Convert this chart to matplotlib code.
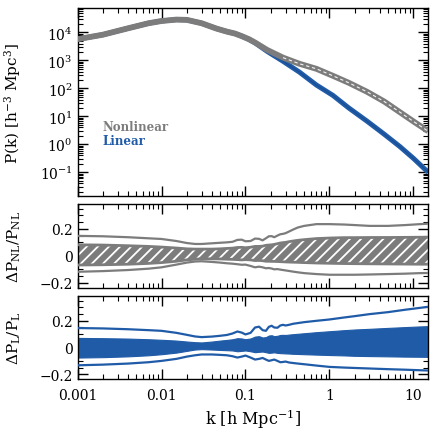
import numpy as np
import matplotlib
matplotlib.use("Agg")
import matplotlib.pyplot as plt
from matplotlib.ticker import FixedLocator, FixedFormatter, MultipleLocator, LogLocator, NullFormatter

plt.rcParams['font.family'] = ['DejaVu Serif']
plt.rcParams['mathtext.fontset'] = 'dejavuserif'
plt.rcParams['hatch.linewidth'] = 1.3
plt.rcParams['hatch.color'] = 'white'

# ---------------- data ----------------
k_pk = [0.001, 0.002, 0.004, 0.007, 0.01, 0.015, 0.02, 0.03, 0.045, 0.06, 0.075,
        0.09, 0.11, 0.13, 0.18, 0.28, 0.44, 0.7, 1.1, 1.7, 2.8, 4.5, 6.9, 10.0, 15.0]
logP_nl = [3.76, 3.92, 4.15, 4.33, 4.41, 4.46, 4.45, 4.33, 4.14, 4.03, 3.96,
           3.87, 3.76, 3.64, 3.38, 3.10, 2.88, 2.70, 2.45, 2.20, 1.88, 1.53, 1.15, 0.82, 0.47]
logP_lin = [3.76, 3.92, 4.15, 4.33, 4.41, 4.46, 4.45, 4.33, 4.14, 4.03, 3.96,
            3.87, 3.75, 3.63, 3.33, 2.97, 2.58, 2.12, 1.75, 1.30, 0.83, 0.36, -0.08, -0.50, -1.00]
k_dash_min = 0.2   # white dashes of the nonlinear band are visible from here on

k_r = [0.001, 0.002, 0.004, 0.007, 0.01, 0.015, 0.02, 0.025, 0.03, 0.04, 0.05, 0.06,
       0.07, 0.08, 0.09, 0.1, 0.115, 0.13, 0.145, 0.16, 0.175, 0.19, 0.205, 0.22,
       0.24, 0.26, 0.28, 0.3, 0.33, 0.37, 0.42, 0.5, 0.7, 1.0, 1.5, 2.0, 3.0, 5.0,
       8.0, 12.0, 15.0]

# Nonlinear fractional error
nl_out_hi = [0.148, 0.145, 0.138, 0.130, 0.125, 0.110, 0.095, 0.088, 0.088, 0.093, 0.097, 0.100,
             0.104, 0.118, 0.120, 0.108, 0.110, 0.128, 0.126, 0.115, 0.130, 0.145, 0.146, 0.138,
             0.150, 0.160, 0.163, 0.168, 0.180, 0.195, 0.210, 0.222, 0.235, 0.235, 0.232, 0.228,
             0.222, 0.222, 0.228, 0.235, 0.238]
nl_out_lo = [-0.118, -0.113, -0.105, -0.095, -0.085, -0.065, -0.050, -0.042, -0.040, -0.045, -0.050, -0.055,
             -0.058, -0.062, -0.066, -0.065, -0.075, -0.085, -0.080, -0.085, -0.092, -0.090, -0.094, -0.100,
             -0.098, -0.102, -0.105, -0.108, -0.112, -0.117, -0.122, -0.128, -0.135, -0.140, -0.140, -0.140,
             -0.138, -0.135, -0.132, -0.128, -0.127]
nl_band_hi = [0.082, 0.080, 0.075, 0.070, 0.065, 0.058, 0.052, 0.050, 0.050, 0.050, 0.052, 0.055,
              0.057, 0.062, 0.063, 0.060, 0.064, 0.070, 0.070, 0.072, 0.078, 0.080, 0.082, 0.085,
              0.090, 0.095, 0.098, 0.100, 0.105, 0.110, 0.115, 0.120, 0.128, 0.132, 0.135, 0.135,
              0.136, 0.136, 0.137, 0.138, 0.138]
nl_band_lo = [-0.068, -0.066, -0.062, -0.056, -0.050, -0.040, -0.030, -0.025, -0.022, -0.022, -0.023, -0.025,
              -0.026, -0.028, -0.030, -0.028, -0.030, -0.035, -0.034, -0.036, -0.040, -0.040, -0.041, -0.041,
              -0.042, -0.043, -0.044, -0.045, -0.046, -0.047, -0.048, -0.050, -0.053, -0.055, -0.057, -0.058,
              -0.059, -0.060, -0.061, -0.062, -0.062]

# Linear fractional error
l_out_hi = [0.146, 0.143, 0.137, 0.130, 0.125, 0.110, 0.095, 0.083, 0.078, 0.082, 0.088, 0.094,
            0.105, 0.120, 0.112, 0.098, 0.110, 0.150, 0.156, 0.130, 0.125, 0.155, 0.163, 0.150,
            0.148, 0.165, 0.170, 0.165, 0.170, 0.178, 0.183, 0.190, 0.200, 0.210, 0.225, 0.235,
            0.250, 0.265, 0.283, 0.297, 0.305]
l_out_lo = [-0.133, -0.128, -0.120, -0.110, -0.100, -0.085, -0.068, -0.058, -0.052, -0.052, -0.055, -0.058,
            -0.065, -0.075, -0.068, -0.060, -0.075, -0.090, -0.085, -0.078, -0.090, -0.100, -0.095, -0.090,
            -0.100, -0.110, -0.108, -0.105, -0.112, -0.116, -0.120, -0.125, -0.135, -0.145, -0.150, -0.153,
            -0.157, -0.162, -0.166, -0.170, -0.172]
l_band_hi = [0.072, 0.070, 0.067, 0.062, 0.058, 0.052, 0.045, 0.040, 0.038, 0.045, 0.052, 0.057,
             0.062, 0.070, 0.068, 0.062, 0.068, 0.082, 0.085, 0.075, 0.078, 0.090, 0.092, 0.085,
             0.088, 0.094, 0.095, 0.094, 0.097, 0.100, 0.103, 0.107, 0.115, 0.122, 0.130, 0.135,
             0.140, 0.147, 0.153, 0.158, 0.160]
l_band_lo = [-0.075, -0.072, -0.066, -0.058, -0.050, -0.038, -0.025, -0.015, -0.012, -0.015, -0.018, -0.020,
             -0.022, -0.028, -0.025, -0.022, -0.028, -0.035, -0.032, -0.030, -0.035, -0.040, -0.038, -0.036,
             -0.040, -0.042, -0.043, -0.044, -0.045, -0.047, -0.048, -0.050, -0.053, -0.056, -0.059, -0.062,
             -0.064, -0.066, -0.068, -0.069, -0.070]

GRAY = '#7c7c7c'
BLUE = '#205ba8'
DBLUE = '#174a8c'

# ---------------- figure ----------------
fig = plt.figure(figsize=(4.36, 4.35), dpi=100)
L, W = 0.178, 0.804
ax1 = fig.add_axes([L, 0.547, W, 0.432])
ax2 = fig.add_axes([L, 0.336, W, 0.193])
ax3 = fig.add_axes([L, 0.126, W, 0.191])

k_pk_a = np.array(k_pk)
P_nl = 10 ** np.array(logP_nl)
P_lin = 10 ** np.array(logP_lin)
sel = k_pk_a >= k_dash_min

ax1.plot(k_pk_a, P_lin, color=BLUE, lw=3.6, solid_capstyle='butt', zorder=2)
ax1.plot(k_pk_a, P_lin, color=DBLUE, lw=0.6, zorder=3)
ax1.plot(k_pk_a, P_nl, color=GRAY, lw=4.2, solid_capstyle='butt', zorder=4)
ax1.plot(k_pk_a[sel], P_nl[sel], color='white', lw=0.8, dashes=(3, 2.5), alpha=0.9, zorder=5)
ax1.set_yscale('log')
ax1.set_ylim(10 ** -1.85, 10 ** 4.87)
ax1.set_ylabel(r'P(k) [h$^{-3}$ Mpc$^{3}$]', fontsize=11)
ax1.text(0.072, 0.35, 'Nonlinear', color=GRAY, fontsize=8.5, fontweight='bold',
         transform=ax1.transAxes)
ax1.text(0.072, 0.275, 'Linear', color=BLUE, fontsize=8.5, fontweight='bold',
         transform=ax1.transAxes)
ax1.yaxis.set_major_locator(LogLocator(base=10, numticks=20))
ax1.yaxis.set_minor_locator(LogLocator(base=10, subs=np.arange(2, 10), numticks=20))

kr = np.array(k_r)
ax2.fill_between(kr, nl_band_lo, nl_band_hi, facecolor=GRAY, edgecolor='white',
                 hatch='///', linewidth=0, zorder=2)
ax2.plot(kr, nl_band_hi, color=GRAY, lw=2.0, zorder=3)
ax2.plot(kr, nl_band_lo, color=GRAY, lw=2.0, zorder=3)
ax2.plot(kr, nl_out_hi, color=GRAY, lw=1.6, zorder=3)
ax2.plot(kr, nl_out_lo, color=GRAY, lw=1.6, zorder=3)
ax2.set_ylabel(r'$\Delta$P$_{\rm NL}$/P$_{\rm NL}$', fontsize=11)

ax3.fill_between(kr, l_band_lo, l_band_hi, facecolor=BLUE, edgecolor=BLUE, linewidth=0.8, zorder=2)
ax3.plot(kr, l_out_hi, color=BLUE, lw=1.6, zorder=3)
ax3.plot(kr, l_out_lo, color=BLUE, lw=1.6, zorder=3)
ax3.set_ylabel(r'$\Delta$P$_{\rm L}$/P$_{\rm L}$', fontsize=11)
ax3.set_xlabel(r'k [h Mpc$^{-1}$]', fontsize=11.5)

for ax in (ax2, ax3):
    ax.set_ylim(-0.237, 0.385)
    ax.yaxis.set_major_locator(FixedLocator([-0.2, 0.0, 0.2]))
    ax.yaxis.set_major_formatter(FixedFormatter(['\u22120.2', '0', '0.2']))
    ax.yaxis.set_minor_locator(MultipleLocator(0.05))

for ax in (ax1, ax2, ax3):
    ax.set_xscale('log')
    ax.set_xlim(0.001, 15)
    ax.xaxis.set_major_locator(LogLocator(base=10, numticks=20))
    ax.xaxis.set_minor_locator(LogLocator(base=10, subs=np.arange(2, 10), numticks=20))
    ax.xaxis.set_minor_formatter(NullFormatter())
    ax.tick_params(which='both', direction='in', top=True, right=True, labelsize=10)
    ax.tick_params(which='major', length=7, width=1.0)
    ax.tick_params(which='minor', length=3.5, width=0.8)
    ax.yaxis.set_label_coords(-0.155, 0.5)
    for s in ax.spines.values():
        s.set_linewidth(1.0)

ax1.xaxis.set_major_formatter(NullFormatter())
ax2.xaxis.set_major_formatter(NullFormatter())
ax3.xaxis.set_major_locator(FixedLocator([0.001, 0.01, 0.1, 1, 10]))
ax3.xaxis.set_major_formatter(FixedFormatter(['0.001', '0.01', '0.1', '1', '10']))
ax3.tick_params(axis='x', pad=6)

fig.savefig('out.png', dpi=100)
